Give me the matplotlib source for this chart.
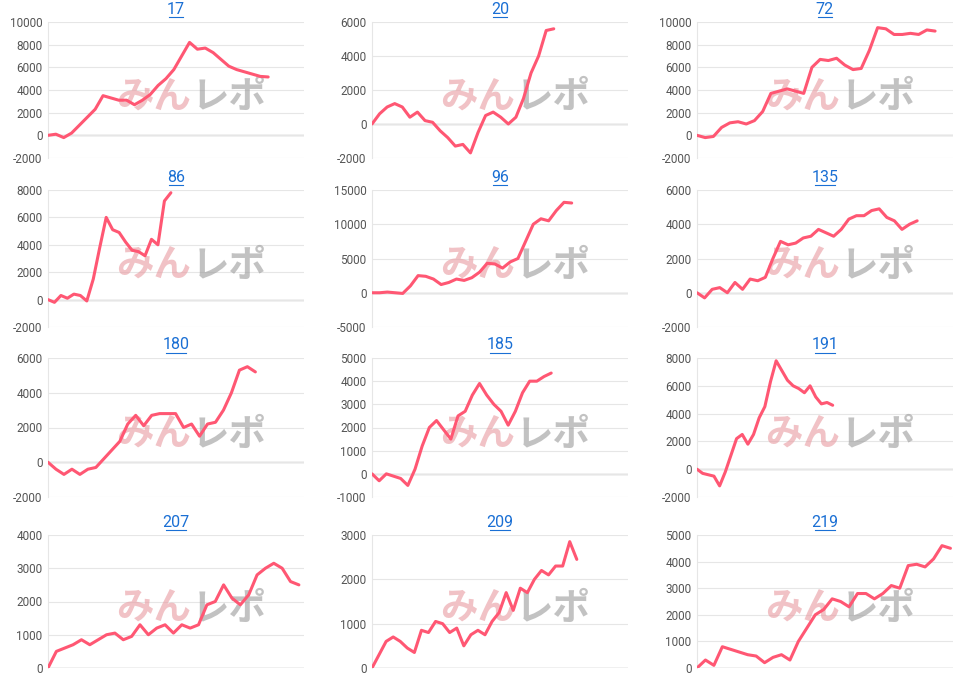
import matplotlib
matplotlib.use("Agg")
import matplotlib.pyplot as plt
import numpy as np

titles = ["17", "20", "72", "86", "96", "135", "180", "185", "191", "207", "209", "219"]
s17 = [0,100,-200,200,900,1600,2300,3500,3300,3100,3100,2700,3100,3600,4400,5000,5800,7000,8200,7600,7700,7300,6700,6100,5800,5600,5400,5200,5150]
s20 = [0,600,1000,1200,1000,400,700,200,100,-400,-800,-1300,-1200,-1700,-500,500,700,400,0,400,1500,3000,4000,5500,5600]
s72 = [0,-200,-100,700,1100,1200,1000,1300,2100,3700,3900,4100,3900,3700,6000,6700,6600,6800,6200,5800,5900,7500,9500,9400,8900,8900,9000,8900,9300,9200]
s86 = [0,-200,300,100,400,300,-100,1500,3800,6000,5100,4900,4200,3600,3500,3200,4400,4000,7200,7800]
s96 = [0,0,100,0,-100,1000,2500,2400,2000,1200,1500,2000,1800,2200,3000,4300,4200,3600,4500,5000,7500,10000,10800,10500,12000,13200,13100]
s135 = [0,-300,200,300,0,600,200,800,700,900,2000,3000,2800,2900,3200,3300,3700,3500,3300,3700,4300,4500,4500,4800,4900,4400,4200,3700,4000,4200]
s180 = [0,-400,-700,-400,-700,-400,-300,200,700,1200,2200,2700,2100,2700,2800,2800,2800,2000,2200,1500,2200,2300,3000,4000,5300,5500,5200]
s185 = [0,-300,0,-100,-200,-500,200,1200,2000,2300,1900,1500,2500,2700,3400,3900,3400,3000,2700,2100,2700,3500,4000,4000,4200,4350]
s191 = [0,-300,-400,-500,-1200,-200,1000,2200,2500,1800,2500,3700,4500,6300,7800,7100,6400,6000,5800,5500,6000,5200,4700,4800,4600]
s207 = [0,500,600,700,850,700,850,1000,1050,850,950,1300,1000,1200,1300,1050,1300,1200,1300,1900,2000,2500,2100,1900,2200,2800,3000,3150,3000,2600,2500]
s209 = [0,300,600,700,600,450,350,850,800,1050,1000,800,900,500,750,850,750,1050,1250,1700,1300,1800,1700,2000,2200,2100,2300,2300,2850,2450]
s219 = [0,300,100,800,700,600,500,450,200,400,500,300,1000,1500,2000,2200,2600,2500,2300,2800,2800,2600,2800,3100,3000,3850,3900,3800,4100,4600,4500]
series = [s17,s20,s72,s86,s96,s135,s180,s185,s191,s207,s209,s219]
end_frac = [0.86,0.71,0.93,0.48,0.78,0.86,0.81,0.70,0.53,0.98,0.80,0.99]
yticks = [list(range(-2000,10001,2000)), list(range(-2000,6001,2000)), list(range(-2000,10001,2000)),
          list(range(-2000,8001,2000)), list(range(-5000,15001,5000)), list(range(-2000,6001,2000)),
          list(range(-2000,6001,2000)), list(range(-1000,5001,1000)), list(range(-2000,8001,2000)),
          list(range(0,4001,1000)), list(range(0,3001,1000)), list(range(0,5001,1000))]

plt.rcParams['font.family'] = ['Roboto', 'DejaVu Sans']
W, H = 961, 680
fig = plt.figure(figsize=(9.61, 6.8), dpi=100)
lefts = [48, 372, 697]
rows = [(22, 158), (190, 327), (358, 497), (535, 668)]
for i, (t, s) in enumerate(zip(titles, series)):
    r, c = divmod(i, 3)
    top, bot = rows[r]
    ax = fig.add_axes([lefts[c]/W, 1-bot/H, 256/W, (bot-top)/H])
    x = np.linspace(0, end_frac[i], len(s))
    ax.plot(x, s, color='#ff5773', lw=2.2, solid_capstyle='round', zorder=3)
    yt = yticks[i]
    ax.set_ylim(yt[0], yt[-1])
    ax.set_xlim(0, 1)
    ax.set_yticks(yt)
    ax.set_yticklabels([str(v) for v in yt], color='#555555', fontsize=8.5)
    ax.set_xticks([])
    ax.tick_params(axis='y', length=0, pad=4)
    ax.grid(axis='y', color='#e6e6e6', lw=0.8)
    ax.axhline(0, color='#b8b8b8', lw=1, zorder=1)
    for sp in ['top', 'right', 'bottom']:
        ax.spines[sp].set_visible(False)
    ax.spines['left'].set_color('#e6e6e6')
    ax.set_facecolor('none')
    ax.text(0.5, 1.04, t, transform=ax.transAxes, ha='center', va='bottom',
            fontsize=11.5, color='#1a6fd4')
    hw = 0.0128 * len(t)
    ax.plot([0.5 - hw, 0.5 + hw], [1.035, 1.035], transform=ax.transAxes,
            color='#1a6fd4', lw=0.8, clip_on=False)
    ax.text(0.56, 0.45, 'みん', transform=ax.transAxes, ha='right', va='center',
            fontsize=27, fontweight='bold', color='#e89aa0', alpha=0.6,
            family=['Noto Sans CJK JP'], zorder=2)
    ax.text(0.56, 0.45, 'レポ', transform=ax.transAxes, ha='left', va='center',
            fontsize=27, fontweight='bold', color='#9a9a9a', alpha=0.6,
            family=['Noto Sans CJK JP'], zorder=2)
fig.savefig('out.png', dpi=100)
